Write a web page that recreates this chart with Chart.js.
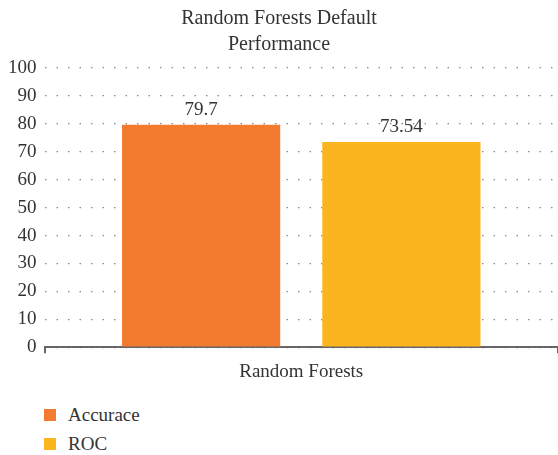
<!DOCTYPE html>
<html>
<head>
<meta charset="utf-8">
<script src="https://cdn.jsdelivr.net/npm/chart.js@4"></script>
<style>
  body { margin: 0; background: #fff; }
  #wrap { position: relative; width: 558px; height: 455px; }
  #legend { position: absolute; left: 44px; top: 400px; font-family: 'Liberation Serif', 'Times New Roman', Times, serif; font-size: 19px; color: #333; }
  #legend div { display: flex; align-items: center; height: 29px; }
  #legend span.box { display: inline-block; width: 12px; height: 12px; margin-right: 12px; }
</style>
</head>
<body>
<div id="wrap">
  <canvas id="myChart" width="558" height="390"></canvas>
  <div id="legend"></div>
</div>
<script>
var categories = ['Random Forests'];
var seriesNames = ['Accurace', 'ROC'];
var accuracyValues = [79.7];
var rocValues = [73.54];
var seriesColors = ['#F37B2F', '#FBB51F'];

var fontFamily = "'Liberation Serif', 'Times New Roman', Times, serif";
Chart.defaults.font.family = fontFamily;

// writes the value above each bar
var valueLabels = {
    id: 'valueLabels',
    afterDatasetsDraw: function (chart) {
        var ctx = chart.ctx;
        ctx.save();
        ctx.font = '19px ' + fontFamily;
        ctx.fillStyle = '#333';
        ctx.textAlign = 'center';
        ctx.textBaseline = 'bottom';
        chart.data.datasets.forEach(function (ds, i) {
            chart.getDatasetMeta(i).data.forEach(function (bar, j) {
                ctx.fillText(ds.data[j], bar.x, bar.y - 5);
            });
        });
        ctx.restore();
    }
};

var ctx = document.getElementById('myChart').getContext('2d');
var myChart = new Chart(ctx, {
    type: 'bar',
    data: {
        labels: categories,
        datasets: [{
            label: seriesNames[0],
            data: accuracyValues,
            backgroundColor: seriesColors[0]
        }, {
            label: seriesNames[1],
            data: rocValues,
            backgroundColor: seriesColors[1]
        }]
    },
    options: {
        responsive: false,
        animation: false,
        layout: { padding: { left: 0, right: 0, bottom: 0 } },
        datasets: {
            bar: { categoryPercentage: 0.78, barPercentage: 0.79 }
        },
        plugins: {
            legend: { display: false },
            tooltip: { enabled: false },
            title: {
                display: true,
                text: ['Random Forests Default', 'Performance'],
                color: '#333',
                font: { family: fontFamily, size: 20, weight: 'normal', lineHeight: 1.3 },
                padding: { top: 6, bottom: 10 }
            }
        },
        scales: {
            x: {
                grid: { drawOnChartArea: false, drawTicks: true, tickLength: 6, color: '#666', lineWidth: 2 },
                border: { display: true, color: '#666', width: 2 },
                ticks: { color: '#333', font: { family: fontFamily, size: 19 }, padding: 7 }
            },
            y: {
                min: 0,
                max: 100,
                ticks: { stepSize: 10, color: '#333', font: { family: fontFamily, size: 19 }, padding: 8 },
                border: { display: false, dash: [1.5, 10] },
                grid: { drawTicks: false, color: '#888', lineWidth: 1.2 }
            }
        }
    },
    plugins: [valueLabels]
});

// legend stacked under the chart
var legendHtml = '';
myChart.data.datasets.forEach(function (ds) {
    legendHtml += '<div><span class="box" style="background:' + ds.backgroundColor + '"></span>' + ds.label + '</div>';
});
document.getElementById('legend').innerHTML = legendHtml;
</script>
</body>
</html>
